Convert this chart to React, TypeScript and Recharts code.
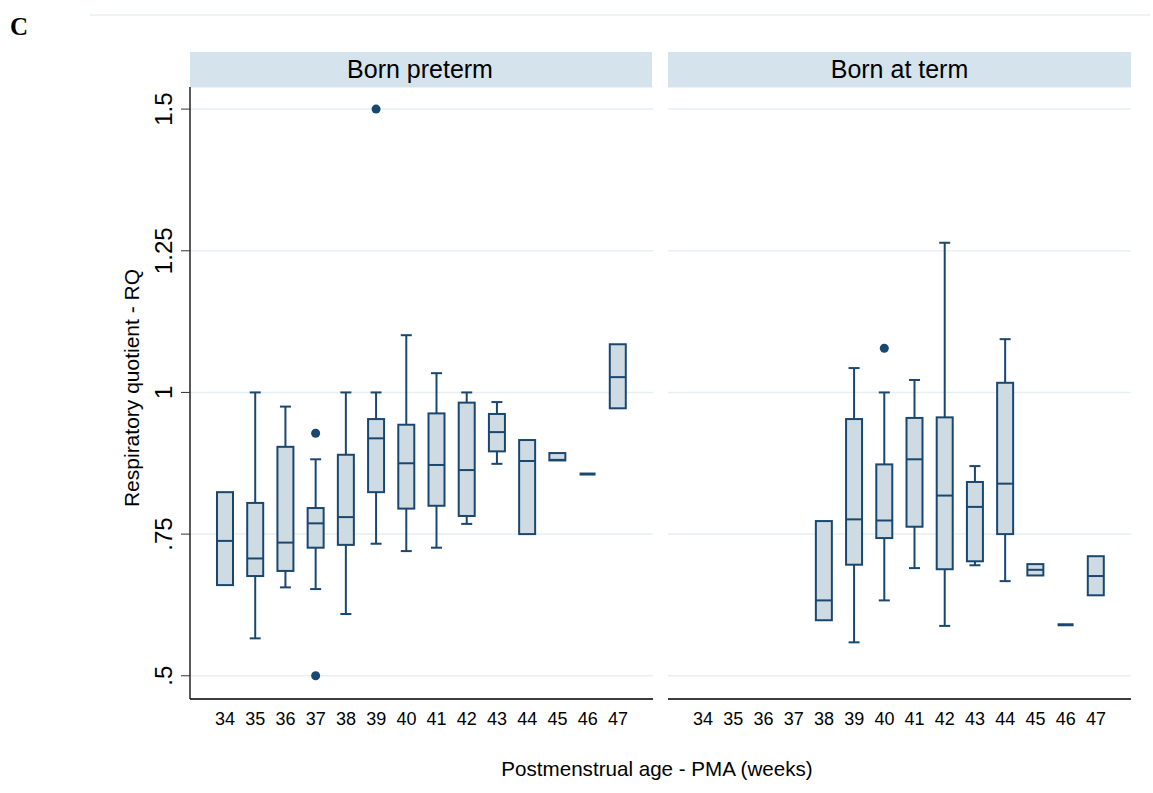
import { Bar, CartesianGrid, ComposedChart, XAxis, YAxis } from 'recharts';

const weeks = ['34', '35', '36', '37', '38', '39', '40', '41', '42', '43', '44', '45', '46', '47'];
const yTicks = [0.5, 0.75, 1, 1.25, 1.5];
const yTickLabels = ['.5', '.75', '1', '1.25', '1.5'];
const panelTitles = ['Born preterm', 'Born at term'];

// born preterm: lower whisker, q1, median, q3, upper whisker, outside values
const pretermLow = [0.66, 0.566, 0.656, 0.653, 0.609, 0.733, 0.72, 0.726, 0.768, 0.874, 0.75, 0.88, 0.856, 0.972];
const pretermQ1 = [0.66, 0.676, 0.685, 0.726, 0.731, 0.824, 0.795, 0.8, 0.782, 0.896, 0.75, 0.88, 0.856, 0.972];
const pretermMed = [0.738, 0.707, 0.735, 0.769, 0.78, 0.919, 0.875, 0.872, 0.863, 0.93, 0.879, 0.881, 0.856, 1.027];
const pretermQ3 = [0.824, 0.805, 0.904, 0.796, 0.89, 0.953, 0.943, 0.963, 0.982, 0.962, 0.916, 0.893, 0.856, 1.085];
const pretermHigh = [0.824, 1.0, 0.975, 0.882, 1.0, 1.0, 1.101, 1.034, 1.0, 0.983, 0.916, 0.893, 0.856, 1.085];
const pretermOut = [[], [], [], [0.928, 0.5], [], [1.5], [], [], [], [], [], [], [], []];

// born at term (no data before 38 weeks)
const termLow = [null, null, null, null, 0.598, 0.559, 0.633, 0.69, 0.588, 0.695, 0.667, 0.677, 0.59, 0.642];
const termQ1 = [null, null, null, null, 0.598, 0.696, 0.743, 0.763, 0.688, 0.702, 0.75, 0.677, 0.59, 0.642];
const termMed = [null, null, null, null, 0.633, 0.776, 0.774, 0.882, 0.818, 0.798, 0.839, 0.687, 0.59, 0.676];
const termQ3 = [null, null, null, null, 0.773, 0.953, 0.873, 0.955, 0.956, 0.842, 1.017, 0.697, 0.59, 0.711];
const termHigh = [null, null, null, null, 0.773, 1.043, 1.0, 1.022, 1.264, 0.87, 1.094, 0.697, 0.59, 0.711];
const termOut = [[], [], [], [], [], [], [1.078], [], [], [], [], [], [], []];

const NAVY = '#1a476f';
const FILL = '#cfdbe3';
const FONT = '"Liberation Sans", Arial, sans-serif';

function buildRows(low: any[], q1: any[], med: any[], q3: any[], high: any[], out: number[][]) {
    return weeks.map((week, i) => {
        if (med[i] == null) return { week, span: null };
        const all = [low[i], high[i], ...out[i]];
        return {
            week,
            low: low[i],
            q1: q1[i],
            med: med[i],
            q3: q3[i],
            high: high[i],
            out: out[i],
            span: [Math.min(...all), Math.max(...all)],
        };
    });
}

const pretermRows = buildRows(pretermLow, pretermQ1, pretermMed, pretermQ3, pretermHigh, pretermOut);
const termRows = buildRows(termLow, termQ1, termMed, termQ3, termHigh, termOut);

// the bar spans the whole range of a group, so its own pixels give the y scale
const BoxShape = (props: any) => {
    const { x, y, width, height, payload } = props;
    if (!payload || payload.span == null || y == null || isNaN(y)) return null;
    const [lo, hi] = payload.span;
    const top = Math.min(y, y + height);
    const h = Math.abs(height);
    const k = hi > lo ? h / (hi - lo) : 0;
    const py = (v: number) => top + (hi - v) * k;
    const cx = x + width / 2;
    const cap = 5.5;
    const flat = payload.q3 === payload.q1;

    return (
        <g>
            {payload.high > payload.q3 && (
                <g stroke={NAVY} strokeWidth={2}>
                    <line x1={cx} x2={cx} y1={py(payload.high)} y2={py(payload.q3)} />
                    <line x1={cx - cap} x2={cx + cap} y1={py(payload.high)} y2={py(payload.high)} />
                </g>
            )}
            {payload.low < payload.q1 && (
                <g stroke={NAVY} strokeWidth={2}>
                    <line x1={cx} x2={cx} y1={py(payload.q1)} y2={py(payload.low)} />
                    <line x1={cx - cap} x2={cx + cap} y1={py(payload.low)} y2={py(payload.low)} />
                </g>
            )}
            {flat ? (
                <line x1={x} x2={x + width} y1={py(payload.med)} y2={py(payload.med)} stroke={NAVY} strokeWidth={3} />
            ) : (
                <>
                    <rect
                        x={x}
                        y={py(payload.q3)}
                        width={width}
                        height={py(payload.q1) - py(payload.q3)}
                        fill={FILL}
                        stroke={NAVY}
                        strokeWidth={2}
                    />
                    <line x1={x} x2={x + width} y1={py(payload.med)} y2={py(payload.med)} stroke={NAVY} strokeWidth={2} />
                </>
            )}
            {payload.out.map((v: number, i: number) => (
                <circle key={i} cx={cx} cy={py(v)} r={4.5} fill={NAVY} />
            ))}
        </g>
    );
};

const XTick = (props: any) => {
    const { x, y, payload } = props;
    return (
        <text x={x} y={y} dy={18} textAnchor="middle" fontSize={18} fontFamily={FONT} fill="#000">
            {payload.value}
        </text>
    );
};

const YTick = (props: any) => {
    const { x, y, payload } = props;
    const label = yTickLabels[yTicks.indexOf(payload.value)];
    const tx = x - 15;
    return (
        <text
            x={tx}
            y={y}
            transform={`rotate(-90, ${tx}, ${y})`}
            textAnchor="middle"
            dominantBaseline="central"
            fontSize={24}
            fontFamily={FONT}
            fill="#000"
        >
            {label}
        </text>
    );
};

function Panel({ rows, showY, width, margin }: { rows: any[]; showY: boolean; width: number; margin: any }) {
    return (
        <ComposedChart width={width} height={652} data={rows} margin={margin} barSize={16}>
            <CartesianGrid horizontal vertical={false} stroke="#e6eff2" strokeWidth={1.5} />
            <XAxis
                dataKey="week"
                type="category"
                padding={{ left: 20, right: 20 }}
                height={40}
                tickLine={false}
                tickSize={6}
                axisLine={{ stroke: '#000', strokeWidth: 1.3 }}
                tick={<XTick />}
                interval={0}
            />
            <YAxis
                type="number"
                domain={[0.459, 1.539]}
                ticks={yTicks}
                allowDataOverflow
                hide={!showY}
                width={90}
                tickSize={9}
                tickLine={{ stroke: '#333' }}
                axisLine={{ stroke: '#000', strokeWidth: 1.3 }}
                tick={<YTick />}
            />
            <Bar dataKey="span" shape={<BoxShape />} isAnimationActive={false} />
        </ComposedChart>
    );
}

export default function App() {
    return (
        <div style={{ position: 'absolute', left: 0, top: 0, width: 1153, height: 793, background: '#fff' }}>
            <svg width={1153} height={793} style={{ position: 'absolute', left: 0, top: 0 }}>
                <line x1={90} x2={1150} y1={15} y2={15} stroke="#e6eff2" strokeWidth={1.5} />
                <text x={10} y={35} fontSize={25} fontWeight="bold" fontFamily='"Liberation Serif", "Times New Roman", serif'>
                    C
                </text>
                <rect x={190} y={52} width={462} height={35} fill="#d5e4ec" />
                <rect x={668} y={52} width={463} height={35} fill="#d5e4ec" />
                <text x={420} y={77.5} textAnchor="middle" fontSize={25} fontFamily={FONT}>
                    {panelTitles[0]}
                </text>
                <text x={899.5} y={77.5} textAnchor="middle" fontSize={25} fontFamily={FONT}>
                    {panelTitles[1]}
                </text>
                <text
                    x={131}
                    y={388}
                    transform="rotate(-90, 131, 388)"
                    textAnchor="middle"
                    dominantBaseline="central"
                    fontSize={21}
                    fontFamily={FONT}
                >
                    Respiratory quotient - RQ
                </text>
                <text x={657} y={775.5} textAnchor="middle" fontSize={20.6} fontFamily={FONT}>
                    Postmenstrual age - PMA (weeks)
                </text>
            </svg>
            <div style={{ position: 'absolute', left: 100, top: 87 }}>
                <Panel rows={pretermRows} showY width={560} margin={{ top: 0, right: 7, left: 0, bottom: 0 }} />
            </div>
            <div style={{ position: 'absolute', left: 668, top: 87 }}>
                <Panel rows={termRows} showY={false} width={463} margin={{ top: 0, right: 0, left: 0, bottom: 0 }} />
            </div>
        </div>
    );
}
